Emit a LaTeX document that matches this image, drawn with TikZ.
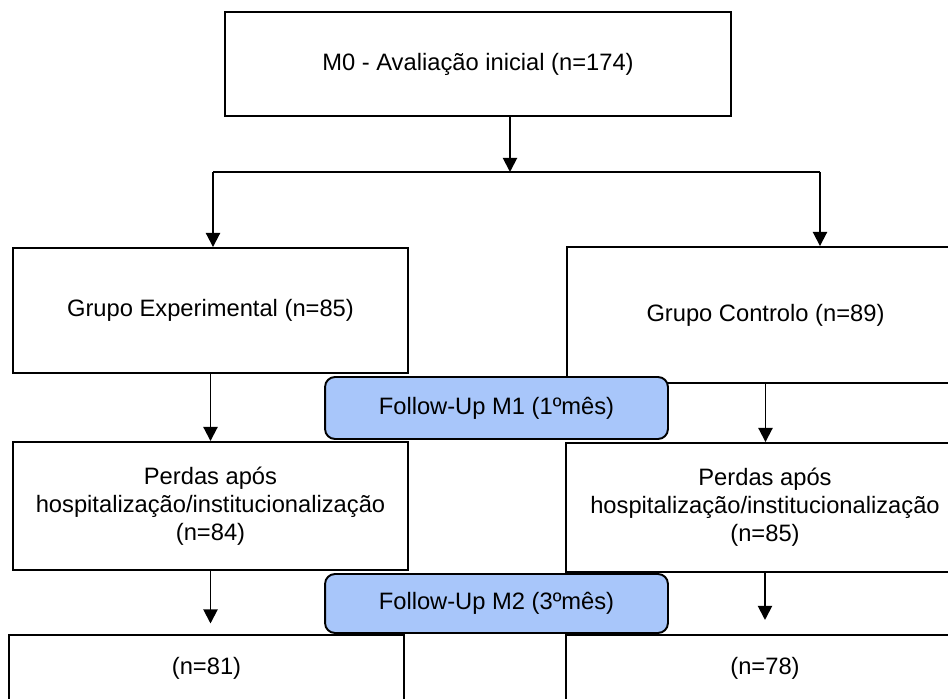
\documentclass[tikz,border=0pt]{standalone}
\usepackage{fontspec}
\setmainfont{Liberation Sans}
\usetikzlibrary{arrows.meta}

\begin{document}
\begin{tikzpicture}[x=0.02cm,y=-0.02cm,
        box/.style={draw, line width=1.1pt, inner sep=0pt, align=center,
            font=\fontsize{13.5}{16}\selectfont},
        followup/.style={box, fill=fuBlue, rounded corners=0.2cm},
        arr/.style={line width=1.1pt, -{Triangle[length=8pt,width=8pt]}}]
    \definecolor{fuBlue}{RGB}{168,198,250}
    \useasboundingbox (0,0) rectangle (948,699);
    \clip (0,0) rectangle (948,699);
    % avaliacao e grupos
    \node[box, minimum width=10.12cm, minimum height=2.07cm] (m0) at (478,64) {M0 - Avaliação inicial (n=174)};
    \node[box, minimum width=7.9cm, minimum height=2.5cm] (gexp) at (210.5,310.5) {Grupo Experimental (n=85)};
    \node[box, minimum width=7.94cm, minimum height=2.72cm] (gcon) at (765.5,315) {Grupo Controlo (n=89)};
    % follow-up
    \node[followup, minimum width=6.86cm, minimum height=1.24cm] (fu1) at (496.5,408) {Follow-Up M1 (1ºmês)};
    \node[box, minimum width=7.9cm, minimum height=2.56cm] (pexp) at (210.5,506) {Perdas após\\hospitalização/institucionalização\\(n=84)};
    \node[box, minimum width=7.96cm, minimum height=2.58cm] (pcon) at (765,507.5) {Perdas após\\hospitalização/institucionalização\\(n=85)};
    \node[followup, minimum width=6.86cm, minimum height=1.18cm] (fu2) at (496.5,603.5) {Follow-Up M2 (3ºmês)};
    \node[box, minimum width=7.9cm, minimum height=1.32cm] (fexp) at (206.5,668) {(n=81)};
    \node[box, minimum width=7.96cm, minimum height=1.32cm] (fcon) at (765,668) {(n=78)};
    % ligacoes
    \coordinate (split) at (510,172);
    \coordinate (splitL) at (213,172);
    \coordinate (splitR) at (820,172);
    \draw[arr] (m0.south -| split) -- (split);
    \draw[line width=1.1pt] (splitL) -- (splitR);
    \draw[arr] (splitL) -- (splitL |- gexp.north);
    \draw[arr] (splitR) -- (splitR |- gcon.north);
    \draw[arr] (gexp.south) -- (gexp.south |- pexp.north);
    \draw[arr] (gcon.south) -- (gcon.south |- pcon.north);
    \draw[arr, shorten >=6pt] (pexp.south -| gexp.south) -- (gexp.south |- fexp.north);
    \draw[arr, shorten >=8pt] (pcon.south) -- (pcon.south |- fcon.north);
\end{tikzpicture}
\end{document}
